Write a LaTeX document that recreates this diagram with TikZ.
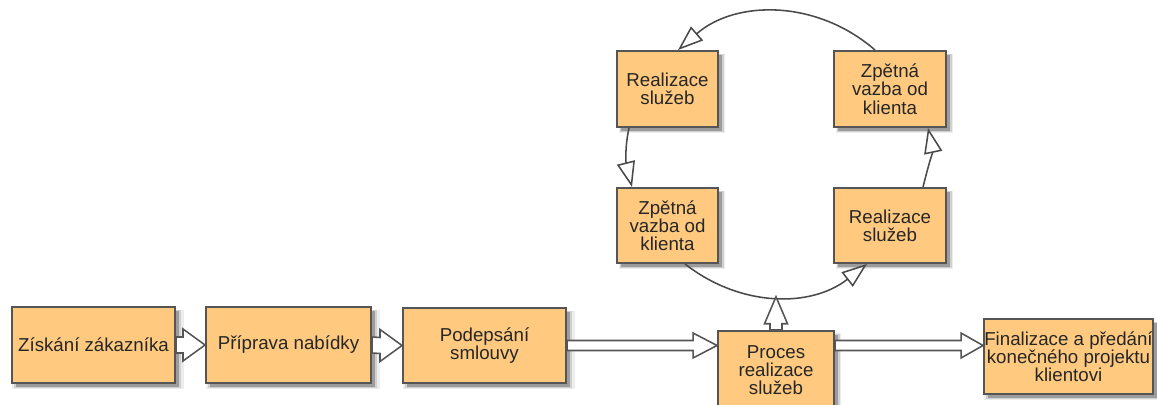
\documentclass[tikz,border=0pt]{standalone}
\usepackage{fontspec}
\setmainfont{Liberation Sans}
\usetikzlibrary{arrows.meta,calc,shadows}
\definecolor{boxfill}{HTML}{FFCA7F}
\definecolor{boxline}{HTML}{555555}
\definecolor{linkline}{HTML}{4A4A4A}
\newcommand\pxu{0.025cm}
% horizontal hollow block arrow: start, tip, shaft half-width, head half-width, head length
\newcommand\fatharrow[5]{%
  \filldraw[fat] ($(#1)+(0,#3)$) -- ($(#2)+(-#5,#3)$) -- ($(#2)+(-#5,#4)$) -- (#2)
    -- ($(#2)+(-#5,-#4)$) -- ($(#2)+(-#5,-#3)$) -- ($(#1)+(0,-#3)$) -- cycle;}
\tikzset{
  stage/.style={draw=boxline, line width=1.4pt, fill=boxfill, inner sep=1pt,
    align=center, text=black!85, font=\fontsize{13.3}{13}\selectfont,
    general shadow={fill=black, opacity=.07, shadow xshift=3pt, shadow yshift=-3pt, shadow scale=1.05},
    general shadow={fill=black, opacity=.12, shadow xshift=3pt, shadow yshift=-3pt, shadow scale=1.025},
    general shadow={fill=black, opacity=.25, shadow xshift=3pt, shadow yshift=-3pt}},
  fat/.style={draw=boxline, line width=1.1pt, fill=white, line join=miter},
  loop/.style={draw=linkline, line width=1.1pt,
    -{Triangle[length=18pt, width=13pt, fill=white]}},
}
\begin{document}
\begin{tikzpicture}[x=\pxu, y=\pxu]
\useasboundingbox (0,0) rectangle (1157,405);

% main process line
\node[stage, minimum width=163*\pxu, minimum height=76*\pxu] (b1) at (93.5,60) {Získání zákazníka};
\node[stage, minimum width=165*\pxu, minimum height=76*\pxu] (b2) at (288.5,60) {Příprava nabídky};
\node[stage, minimum width=163*\pxu, minimum height=75*\pxu] (b3) at (484.5,59.5) {Podepsání\\smlouvy};
\node[stage, minimum width=116*\pxu, minimum height=78*\pxu] (b4) at (776,35) {Proces\\realizace\\služeb};
\node[stage, minimum width=169*\pxu, minimum height=75*\pxu, inner sep=0pt] (b5) at (1068.5,48.5)
  {Finalizace a předání\\konečného projektu\\klientovi};

% service delivery cycle
\node[stage, minimum width=101*\pxu, minimum height=76*\pxu] (c1) at (667.5,316) {Realizace\\služeb};
\node[stage, minimum width=112*\pxu, minimum height=76*\pxu] (c2) at (890,316) {Zpětná\\vazba od\\klienta};
\node[stage, minimum width=101*\pxu, minimum height=75*\pxu] (c3) at (667.5,179.5) {Zpětná\\vazba od\\klienta};
\node[stage, minimum width=112*\pxu, minimum height=75*\pxu] (c4) at (890,179.5) {Realizace\\služeb};

\draw[loop] ($(c2.north)+(-15,0)$) to[out=139, in=41] ($(c1.north)+(10.5,0)$);
\draw[loop] ($(c1.south)+(-38.5,0)$) to[out=258, in=104] ($(c3.north)+(-35.5,0)$);
\draw[loop] ($(c3.south)+(17.5,0)$) to[out=-38, in=218] coordinate[pos=.5] (cb) ($(c4.south)+(-23,0)$);
\draw[loop] ($(c4.north)+(33,0)$) to[out=76, in=-78] ($(c2.south)+(38,0)$);

% block arrows
\fatharrow{b1.east}{b2.west}{8}{16}{22}
\fatharrow{b2.east}{b3.west}{8}{16}{22}
\coordinate (a34s) at (b3.east);
\coordinate (a34e) at (b4.west |- b3.east);
\fatharrow{a34s}{a34e}{5}{12.5}{24}
\coordinate (a45s) at (b4.east |- b3.east);
\coordinate (a45e) at (b5.west |- b3.east);
\fatharrow{a45s}{a45e}{5}{12.5}{22}
\coordinate (up) at (b4.north |- cb);
\filldraw[fat] ($(b4.north)+(-6,0)$) -- ($(up)+(-6,-27)$) -- ($(up)+(-11.5,-27)$) -- (up)
  -- ($(up)+(11.5,-27)$) -- ($(up)+(6,-27)$) -- ($(b4.north)+(6,0)$) -- cycle;
\end{tikzpicture}
\end{document}
